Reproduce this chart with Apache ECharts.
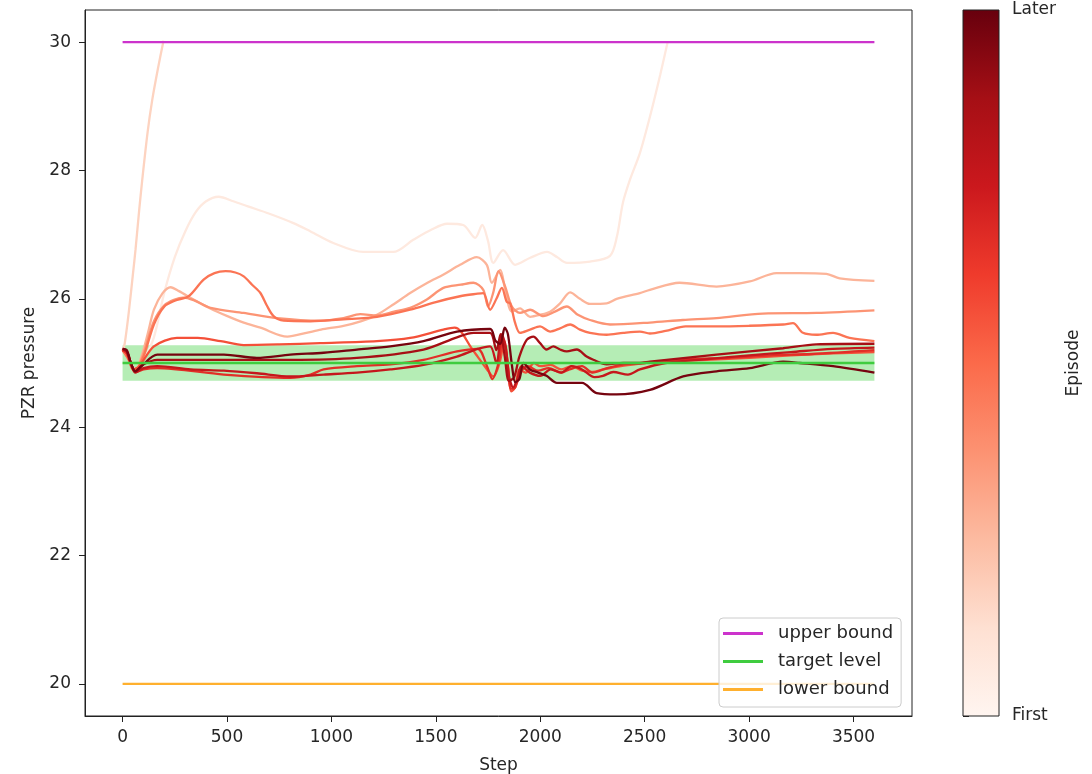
<!DOCTYPE html>
<html><head><meta charset="utf-8">
<script src="https://cdn.jsdelivr.net/npm/echarts@6/dist/echarts.min.js"></script>
<style>html,body{margin:0;padding:0;background:#fff}#c{width:1092px;height:774px}</style>
</head><body><div id="c"></div>
<script>
// ---------- data ----------
const xTicks = [0, 500, 1000, 1500, 2000, 2500, 3000, 3500];
const yTicks = [20, 22, 24, 26, 28, 30];
const stepRange = [0, 3600];
const upperBound = 30;
const targetLevel = 25;
const lowerBound = 20;
const targetTolerance = 0.275;
const colorbarLabels = ['First', 'Later'];

const ep0 = [[0,25.2],[30,25.1],[60,24.9],[100,25.05],[150,25.4],[200,26.1],[250,26.65],[300,27.05],[350,27.35],[400,27.52],[460,27.59],[530,27.52],[600,27.44],[700,27.33],[818,27.18],[900,27.05],[1009,26.87],[1152,26.73],[1296,26.73],[1392,26.92],[1480,27.08],[1554,27.17],[1631,27.15],[1688,26.95],[1722,27.15],[1750,26.9],[1775,26.56],[1822,26.76],[1880,26.53],[1952,26.64],[2033,26.73],[2080,26.65],[2128,26.56],[2238,26.58],[2334,26.67],[2367,26.97],[2396,27.5],[2430,27.86],[2477,28.27],[2530,28.9],[2575,29.5],[2610,30.0]];
const ep1 = [[0,25.2],[10,25.3],[30,25.8],[50,26.4],[62,26.77],[80,27.4],[94,27.85],[120,28.6],[142,29.1],[170,29.6],[196,30.02]];
const ep2 = [[0,25.2],[30,25.05],[60,24.87],[90,25.1],[120,25.45],[150,25.83],[190,26.08],[230,26.18],[270,26.12],[340,25.99],[420,25.85],[502,25.73],[580,25.63],[660,25.55],[789,25.41],[880,25.47],[950,25.52],[1058,25.58],[1140,25.65],[1218,25.75],[1300,25.92],[1377,26.09],[1460,26.25],[1537,26.38],[1616,26.53],[1696,26.65],[1744,26.53],[1768,26.25],[1808,26.45],[1832,26.14],[1864,25.8],[1903,25.85],[1951,25.72],[1999,25.75],[2047,25.8],[2095,25.93],[2143,26.1],[2190,26.0],[2238,25.92],[2318,25.93],[2366,26.0],[2477,26.09],[2525,26.14],[2667,26.25],[2844,26.19],[3003,26.27],[3131,26.4],[3242,26.4],[3370,26.39],[3434,26.32],[3600,26.28]];
const ep3 = [[0,25.2],[30,25.05],[60,24.87],[100,25.15],[150,25.65],[200,25.9],[250,25.99],[290,26.02],[340,25.98],[421,25.86],[580,25.78],[739,25.7],[947,25.66],[1058,25.7],[1138,25.76],[1218,25.74],[1300,25.8],[1377,25.86],[1457,25.99],[1536,26.17],[1620,26.22],[1680,26.25],[1727,26.14],[1750,25.88],[1775,26.1],[1800,26.43],[1832,26.19],[1864,25.88],[1903,25.78],[1951,25.83],[2015,25.73],[2070,25.8],[2127,25.88],[2180,25.75],[2238,25.67],[2334,25.6],[2525,25.63],[2683,25.67],[2844,25.7],[3066,25.77],[3323,25.78],[3600,25.82]];
const ep4 = [[0,25.2],[30,25.05],[60,24.87],[100,25.1],[150,25.6],[200,25.88],[250,25.97],[316,26.04],[388,26.3],[440,26.4],[493,26.43],[540,26.41],[580,26.35],[620,26.22],[660,26.09],[690,25.9],[723,25.73],[771,25.66],[899,25.65],[1058,25.68],[1218,25.72],[1377,25.83],[1500,25.95],[1616,26.04],[1700,26.08],[1727,26.09],[1760,25.83],[1790,26.0],[1816,26.17],[1840,25.95],[1856,25.93],[1880,25.62],[1903,25.47],[1951,25.52],[1999,25.57],[2047,25.49],[2095,25.54],[2143,25.6],[2190,25.52],[2238,25.47],[2318,25.44],[2397,25.47],[2477,25.49],[2525,25.46],[2600,25.5],[2696,25.57],[2844,25.57],[3000,25.58],[3163,25.6],[3210,25.62],[3258,25.47],[3322,25.44],[3402,25.47],[3481,25.39],[3600,25.34]];
const ep5 = [[0,25.2],[20,25.15],[50,24.9],[80,24.95],[150,25.26],[260,25.39],[360,25.39],[470,25.34],[580,25.28],[750,25.29],[947,25.31],[1218,25.34],[1377,25.39],[1536,25.52],[1590,25.55],[1620,25.49],[1665,25.26],[1700,25.1],[1745,24.9],[1775,24.79],[1805,25.0],[1828,25.35],[1845,24.95],[1862,24.56],[1880,24.62],[1900,24.9],[1930,24.85],[1970,25.0],[2000,24.95],[2050,24.97],[2100,24.9],[2150,24.95],[2200,24.88],[2250,24.86],[2300,24.9],[2400,24.96],[2500,25.0],[2600,25.03],[2800,25.05],[3000,25.08],[3200,25.12],[3400,25.15],[3600,25.17]];
const ep6 = [[0,25.2],[20,25.15],[45,24.95],[65,24.86],[100,24.9],[166,24.92],[485,24.82],[803,24.77],[900,24.82],[963,24.9],[1122,24.95],[1282,24.98],[1441,25.05],[1601,25.18],[1700,25.22],[1745,24.95],[1770,24.75],[1800,25.0],[1820,25.38],[1840,25.1],[1860,24.6],[1880,24.62],[1905,24.85],[1940,24.95],[1990,24.88],[2040,24.92],[2100,24.85],[2140,24.9],[2200,24.95],[2250,24.85],[2320,24.92],[2400,24.98],[2500,25.0],[2700,25.06],[2900,25.08],[3100,25.12],[3300,25.14],[3600,25.2]];
const ep7 = [[0,25.22],[20,25.18],[40,25.0],[60,24.85],[100,24.92],[166,24.95],[325,24.9],[485,24.88],[643,24.84],[803,24.79],[963,24.82],[1122,24.85],[1282,24.9],[1441,24.97],[1601,25.1],[1700,25.22],[1760,25.26],[1790,25.0],[1815,25.45],[1835,25.25],[1850,24.8],[1870,24.62],[1890,24.75],[1910,24.95],[1950,24.85],[2000,24.8],[2050,24.9],[2100,24.85],[2150,24.95],[2200,24.9],[2260,24.78],[2300,24.8],[2350,24.86],[2420,24.82],[2477,24.9],[2600,25.0],[2800,25.06],[3000,25.12],[3200,25.17],[3400,25.22],[3600,25.24]];
const ep8 = [[0,25.22],[20,25.18],[40,25.0],[60,24.87],[100,24.98],[166,25.05],[485,25.05],[803,25.05],[1122,25.08],[1441,25.21],[1601,25.4],[1680,25.47],[1760,25.47],[1790,25.2],[1810,25.45],[1830,25.1],[1850,24.72],[1875,24.78],[1900,25.1],[1935,25.36],[1967,25.41],[1999,25.31],[2030,25.21],[2063,25.26],[2095,25.21],[2127,25.18],[2175,25.21],[2222,25.1],[2254,25.05],[2318,24.98],[2397,25.0],[2477,25.0],[2525,25.02],[2844,25.13],[3163,25.23],[3322,25.29],[3600,25.3]];
const ep9 = [[0,25.22],[20,25.2],[40,25.0],[60,24.87],[90,24.95],[166,25.13],[485,25.13],[643,25.08],[803,25.13],[963,25.16],[1122,25.21],[1282,25.26],[1441,25.34],[1601,25.49],[1760,25.53],[1785,25.35],[1808,25.3],[1830,25.55],[1845,25.45],[1865,24.95],[1880,24.7],[1900,24.75],[1920,25.0],[1950,24.9],[1990,24.85],[2030,24.8],[2080,24.69],[2200,24.69],[2270,24.53],[2366,24.51],[2525,24.58],[2684,24.79],[2844,24.87],[3003,24.92],[3163,25.02],[3242,25.0],[3402,24.95],[3600,24.85]];
const episodes = [ep0, ep1, ep2, ep3, ep4, ep5, ep6, ep7, ep8, ep9];

// ---------- styles ----------
const redsColormap = ['#fff5f0','#fee0d2','#fcbba1','#fc9272','#fb6a4a','#ef3b2c','#cb181d','#a50f15','#67000d'];
function hex2rgb(h){return [parseInt(h.slice(1,3),16),parseInt(h.slice(3,5),16),parseInt(h.slice(5,7),16)];}
function reds(t){
  const n = redsColormap.length - 1;
  const p = Math.min(Math.max(t,0),1) * n;
  const i = Math.min(Math.floor(p), n - 1);
  const f = p - i;
  const a = hex2rgb(redsColormap[i]), b = hex2rgb(redsColormap[i+1]);
  return 'rgb(' + a.map((v,k)=>Math.round(v + (b[k]-v)*f)).join(',') + ')';
}
const FONT = 'DejaVu Sans';
const TXT = '#262626';
const FS = 17;

const chart = echarts.init(document.getElementById('c'), null, {renderer:'canvas'});

const epSeries = episodes.map((d, i) => ({
  type: 'line', data: d, symbol: 'none', smooth: 0.3, silent: true, z: 2,
  lineStyle: {width: 2.3, color: reds(0.07 + 0.1 * i)}
}));

const flat = v => [[stepRange[0], v], [stepRange[1], v]];

const gradStops = redsColormap.map((c, k) => ({offset: 1 - k / (redsColormap.length - 1), color: c})).reverse();

chart.setOption({
  animation: false,
  backgroundColor: '#fff',
  textStyle: {fontFamily: FONT},
  grid: [
    {left: 85, top: 10, width: 827, height: 706, show: true, borderColor: '#222', borderWidth: 1,
     backgroundColor: 'transparent', containLabel: false, outerBoundsMode: 'none'},
    {left: 963, top: 10, width: 36, height: 706, show: false, containLabel: false, outerBoundsMode: 'none'}
  ],
  xAxis: [
    {gridIndex: 0, type: 'value', min: -180, max: 3780,
     axisLine: {show: true, onZero: false, lineStyle: {color: '#222'}},
     axisTick: {show: true, length: 6, customValues: xTicks, lineStyle: {color: '#222'}},
     axisLabel: {customValues: xTicks, fontSize: FS, color: TXT, margin: 13, fontFamily: FONT,
                 formatter: v => String(v)},
     splitLine: {show: false},
     name: 'Step', nameLocation: 'middle', nameGap: 41,
     nameTextStyle: {fontSize: FS, color: TXT, fontFamily: FONT}},
    {gridIndex: 1, type: 'value', min: 0, max: 1, show: false,
     axisLine: {show: false}, axisTick: {show: false}, axisLabel: {show: false}, splitLine: {show: false}}
  ],
  yAxis: [
    {gridIndex: 0, type: 'value', min: 19.5, max: 30.5,
     axisLine: {show: true, onZero: false, lineStyle: {color: '#222'}},
     axisTick: {show: true, length: 6, customValues: yTicks, lineStyle: {color: '#222'}},
     axisLabel: {customValues: yTicks, fontSize: FS, color: TXT, margin: 14, fontFamily: FONT,
                 formatter: v => String(v)},
     splitLine: {show: false},
     name: 'PZR pressure', nameLocation: 'middle', nameGap: 47,
     nameTextStyle: {fontSize: FS, color: TXT, fontFamily: FONT}},
    {gridIndex: 1, type: 'value', min: 0, max: 1, position: 'right',
     axisLine: {show: false},
     axisTick: {show: true, length: 6, customValues: [0, 1], lineStyle: {color: '#222'}},
     axisLabel: {customValues: [0, 1], showMinLabel: true, showMaxLabel: true, fontSize: FS, color: TXT, margin: 13, fontFamily: FONT,
                 padding: [4, 0, 0, 0],
                 formatter: v => colorbarLabels[Math.round(v)]},
     splitLine: {show: false},
     name: 'Episode', nameLocation: 'middle', nameGap: 66, nameRotate: 90,
     nameTextStyle: {fontSize: FS, color: TXT, fontFamily: FONT}}
  ],
  legend: {
    data: ['upper bound', 'target level', 'lower bound'],
    orient: 'vertical', left: 719, top: 618,
    icon: 'rect', itemWidth: 40, itemHeight: 3, itemGap: 7,
    padding: [5, 8, 7, 4],
    backgroundColor: 'rgba(255,255,255,0.8)', borderColor: '#cccccc', borderWidth: 1, borderRadius: 4,
    textStyle: {fontSize: 18, color: TXT, fontFamily: FONT, lineHeight: 21, padding: [0, 0, 0, 10]}
  },
  series: [
    {type: 'line', name: 'band', data: flat(targetLevel), symbol: 'none', silent: true, z: 1,
     lineStyle: {width: 0, opacity: 0},
     markArea: {silent: true, itemStyle: {color: 'rgba(50,205,50,0.36)'},
       data: [[{coord: [stepRange[0], targetLevel - targetTolerance]}, {coord: [stepRange[1], targetLevel + targetTolerance]}]]}},
    ...epSeries,
    {type: 'line', name: 'upper bound', data: flat(upperBound), symbol: 'none', z: 3,
     itemStyle: {color: '#cc33cc'}, lineStyle: {width: 2.3, color: '#cc33cc'}},
    {type: 'line', name: 'target level', data: flat(targetLevel), symbol: 'none', z: 3,
     itemStyle: {color: '#3fcc3f'}, lineStyle: {width: 2.3, color: '#3fcc3f'}},
    {type: 'line', name: 'lower bound', data: flat(lowerBound), symbol: 'none', z: 3,
     itemStyle: {color: '#ffb02e'}, lineStyle: {width: 2.3, color: '#ffb02e'}},
    {type: 'custom', xAxisIndex: 1, yAxisIndex: 1, data: [[0, 0]], silent: true, z: 2,
     renderItem: (params, api) => {
       const p0 = api.coord([0, 1]);
       const p1 = api.coord([1, 0]);
       return {type: 'rect',
         shape: {x: p0[0], y: p0[1], width: p1[0] - p0[0], height: p1[1] - p0[1]},
         style: {fill: new echarts.graphic.LinearGradient(0, 0, 0, 1, gradStops), stroke: '#222', lineWidth: 1}};
     }}
  ]
});
</script>
</body></html>
